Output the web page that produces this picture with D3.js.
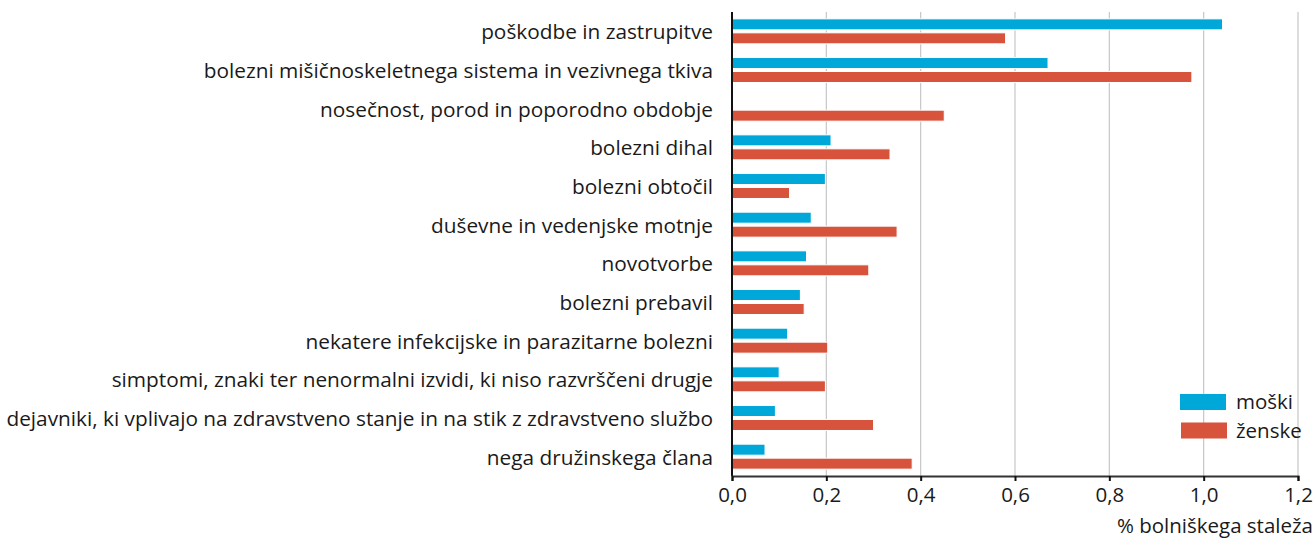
<!DOCTYPE html>
<html><head><meta charset="utf-8">
<script src="https://cdn.jsdelivr.net/npm/d3@7"></script>
<style>
html,body{margin:0;padding:0;background:#fff;}
svg text{font-family:"Open Sans","Noto Sans",sans-serif;fill:#1a1a1a;}
</style></head>
<body><svg id="c" width="1316" height="540"></svg>
<script>
const categories = [
  "poškodbe in zastrupitve",
  "bolezni mišičnoskeletnega sistema in vezivnega tkiva",
  "nosečnost, porod in poporodno obdobje",
  "bolezni dihal",
  "bolezni obtočil",
  "duševne in vedenjske motnje",
  "novotvorbe",
  "bolezni prebavil",
  "nekatere infekcijske in parazitarne bolezni",
  "simptomi, znaki ter nenormalni izvidi, ki niso razvrščeni drugje",
  "dejavniki, ki vplivajo na zdravstveno stanje in na stik z zdravstveno službo",
  "nega družinskega člana"
];
const moski  = [1.04, 0.67, null, 0.21, 0.198, 0.168, 0.158, 0.145, 0.118, 0.10, 0.092, 0.07];
const zenske = [0.58, 0.975, 0.45, 0.335, 0.122, 0.35, 0.29, 0.153, 0.203, 0.198, 0.3, 0.382];
const seriesNames = ["moški", "ženske"];
const colors = ["#00a8da", "#d8533c"];
const xTicks = [0, 0.2, 0.4, 0.6, 0.8, 1.0, 1.2];
const axisTitle = "% bolniškega staleža";

const svg = d3.select("#c");
const x = d3.scaleLinear().domain([0, 1.2]).range([732, 1298]);
const y = d3.scaleBand().domain(categories).range([12, 476]).padding(0);
const sub = d3.scaleBand().domain(seriesNames).range([0, y.bandwidth()]).paddingInner(0.214).paddingOuter(0.49);

// gridlines
svg.append("g").selectAll("line").data(xTicks.slice(1)).join("line")
  .attr("x1", d => x(d)).attr("x2", d => x(d))
  .attr("y1", 12).attr("y2", 476)
  .attr("stroke", "#c6c6c6").attr("stroke-width", 1.2);

// bars
const series = [moski, zenske];
series.forEach((vals, si) => {
  svg.append("g").selectAll("rect")
    .data(categories.map((c, i) => ({c, v: vals[i]})).filter(d => d.v != null))
    .join("rect")
    .attr("x", x(0))
    .attr("y", d => y(d.c) + sub(seriesNames[si]))
    .attr("width", d => x(d.v) - x(0))
    .attr("height", sub.bandwidth())
    .attr("fill", colors[si])
    .attr("stroke", "#fff").attr("stroke-width", 1);
});

// left axis line
svg.append("line").attr("x1", x(0)).attr("x2", x(0)).attr("y1", 12).attr("y2", 476)
  .attr("stroke", "#111").attr("stroke-width", 2);

// category labels
svg.append("g").selectAll("text").data(categories).join("text")
  .attr("x", 713).attr("y", d => y(d) + y.bandwidth() / 2)
  .attr("text-anchor", "end").attr("dominant-baseline", "central")
  .attr("font-size", 20.8).text(d => d);

// bottom axis
const xAxis = d3.axisBottom(x).tickValues(xTicks).tickSize(5).tickPadding(6)
  .tickFormat(d => d3.format(".1f")(d).replace(".", ","));
const ax = svg.append("g").attr("transform", "translate(0,476)").call(xAxis);
ax.select(".domain").attr("stroke", "#333").attr("stroke-width", 2);
ax.selectAll(".tick line").attr("stroke", "#111").attr("stroke-width", 2);
ax.selectAll(".tick text").attr("font-size", 20.5).attr("font-family", "Open Sans").attr("fill", "#1a1a1a");

svg.append("text").attr("x", 1313).attr("y", 533).attr("text-anchor", "end")
  .attr("font-size", 20.5).text(axisTitle);

// legend
const lg = svg.append("g");
seriesNames.forEach((n, i) => {
  lg.append("rect").attr("x", 1180 + i).attr("y", 394 + i * 28.5).attr("width", 46).attr("height", 16).attr("fill", colors[i]);
  lg.append("text").attr("x", 1236).attr("y", 401 + i * 28.5).attr("dominant-baseline", "central")
    .attr("font-size", 20.5).text(n);
});
</script></body></html>
